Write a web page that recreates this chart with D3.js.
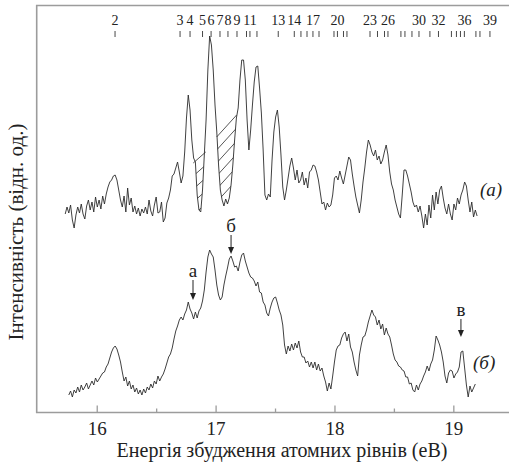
<!DOCTYPE html>
<html>
<head>
<meta charset="utf-8">
<script src="https://cdn.jsdelivr.net/npm/d3@7/dist/d3.min.js"></script>
<style>
  body { margin: 0; background: #fff; }
  svg text { font-family: "Liberation Serif", "Times New Roman", Times, serif; fill: #222; }
</style>
</head>
<body>
<div id="chart"></div>
<script>
// excitation energies of the atomic levels (eV) and the numbers printed above them
var levelEnergies = [16.154, 16.701, 16.785, 16.890, 16.962, 17.037, 17.104, 17.180, 17.260, 17.289,
  17.348, 17.527, 17.662, 17.718, 17.769, 17.819, 17.870, 17.996, 18.025, 18.076,
  18.105, 18.299, 18.362, 18.421, 18.450, 18.559, 18.593, 18.652, 18.711, 18.803,
  18.875, 18.984, 19.026, 19.060, 19.093, 19.190, 19.224, 19.308];
var levelNumbers = [2, 3, 4, 5, 6, 7, 8, 9, 10, 11, 12, 13, 14, 15, 16, 17, 18, 19, 20, 21, 22,
  23, 24, 25, 26, 27, 28, 29, 30, 31, 32, 33, 34, 35, 36, 37, 38, 39];
var labelledLevels = [2, 3, 4, 5, 6, 7, 8, 9, 11, 13, 14, 17, 20, 23, 26, 30, 32, 36, 39];

var energies = [
  15.735,15.750,15.765,15.780,15.795,15.810,15.825,15.840,15.855,15.870,
  15.885,15.900,15.915,15.930,15.945,15.960,15.975,15.990,16.005,16.020,
  16.035,16.050,16.065,16.080,16.095,16.110,16.125,16.140,16.155,16.170,
  16.185,16.200,16.215,16.230,16.245,16.260,16.275,16.290,16.305,16.320,
  16.335,16.350,16.365,16.380,16.395,16.410,16.425,16.440,16.455,16.470,
  16.485,16.500,16.515,16.530,16.545,16.560,16.575,16.590,16.605,16.620,
  16.635,16.650,16.665,16.680,16.695,16.710,16.725,16.740,16.755,16.770,
  16.785,16.800,16.815,16.830,16.845,16.860,16.875,16.890,16.905,16.920,
  16.935,16.950,16.965,16.980,16.995,17.010,17.025,17.040,17.055,17.070,
  17.085,17.100,17.115,17.130,17.145,17.160,17.175,17.190,17.205,17.220,
  17.235,17.250,17.265,17.280,17.295,17.310,17.325,17.340,17.355,17.370,
  17.385,17.400,17.415,17.430,17.445,17.460,17.475,17.490,17.505,17.520,
  17.535,17.550,17.565,17.580,17.595,17.610,17.625,17.640,17.655,17.670,
  17.685,17.700,17.715,17.730,17.745,17.760,17.775,17.790,17.805,17.820,
  17.835,17.850,17.865,17.880,17.895,17.910,17.925,17.940,17.955,17.970,
  17.985,18.000,18.015,18.030,18.045,18.060,18.075,18.090,18.105,18.120,
  18.135,18.150,18.165,18.180,18.195,18.210,18.225,18.240,18.255,18.270,
  18.285,18.300,18.315,18.330,18.345,18.360,18.375,18.390,18.405,18.420,
  18.435,18.450,18.465,18.480,18.495,18.510,18.525,18.540,18.555,18.570,
  18.585,18.600,18.615,18.630,18.645,18.660,18.675,18.690,18.705,18.720,
  18.735,18.750,18.765,18.780,18.795,18.810,18.825,18.840,18.855,18.870,
  18.885,18.900,18.915,18.930,18.945,18.960,18.975,18.990,19.005,19.020,
  19.035,19.050,19.065,19.080,19.095,19.110,19.125,19.140,19.155,19.170,
  19.185,19.200];

// spectrum (а), relative intensity (shifted up)
var intensA = [
  198,205,199,207,192,184,197,205,199,208,
  198,193,206,212,202,210,200,215,205,212,
  203,216,208,218,225,230,232,236,237,232,
  222,212,205,216,200,224,207,214,200,206,
  198,204,196,203,199,205,198,212,201,196,
  207,215,199,200,210,190,194,209,214,222,
  236,238,244,250,240,229,236,260,294,317,
  302,272,254,250,217,202,200,222,257,292,
  342,376,367,342,307,280,247,222,212,206,
  213,208,214,227,247,272,294,304,332,352,
  352,332,292,262,282,307,330,345,346,324,
  299,262,217,212,218,215,252,280,295,302,
  285,257,225,212,222,234,246,254,244,232,
  242,229,232,240,227,234,224,240,242,247,
  246,240,232,220,208,210,202,209,205,207,
  217,234,236,232,241,234,228,237,246,255,
  252,238,226,215,207,199,212,230,244,260,
  272,267,260,256,262,252,256,248,252,260,
  267,257,240,228,222,212,205,198,194,217,
  242,242,236,228,220,210,205,207,200,206,
  196,184,198,187,207,194,217,202,220,208,
  222,226,214,204,198,208,198,192,208,202,
  214,208,217,222,230,226,212,200,210,195,
  202,196];

// spectrum (б), relative intensity
var intensB = [
  null,null,17,21,15,22,19,25,20,27,
  22,25,29,23,27,31,27,34,30,33,
  36,39,40,45,48,54,60,64,66,63,
  57,50,40,31,35,26,31,23,27,20,
  24,18,22,17,23,19,25,22,28,24,
  31,28,36,31,35,38,43,49,55,58,
  64,73,81,86,92,95,92,98,102,110,
  103,99,93,100,94,101,104,111,122,140,
  155,162,158,155,142,127,117,112,115,127,
  136,144,153,156,151,145,146,141,150,157,
  159,151,145,139,135,134,131,126,130,120,
  119,110,107,99,96,104,110,114,115,109,
  102,97,87,67,58,66,61,68,62,69,
  64,71,60,55,55,49,51,45,50,44,
  50,42,48,41,44,36,30,21,29,23,
  36,50,62,66,67,74,78,80,71,78,
  65,60,50,42,36,57,67,75,76,82,
  90,96,102,97,95,87,92,83,88,77,
  84,78,75,67,58,52,50,46,45,42,
  41,35,35,28,29,22,20,27,22,28,
  31,36,40,46,41,48,52,62,76,72,
  67,60,50,36,29,39,42,41,34,38,
  40,45,60,61,44,27,15,26,20,24,
  28,null];

// hatched dips of spectrum (а): chord from [e1, v1] to [e2, v2]
var hatchRegions = [[16.812, 249, 16.917, 260], [17.009, 275, 17.177, 297]];

// marked features of spectrum (б)
var arrowLabels = ["а", "б", "в"];
var arrowEnergies = [16.810, 17.130, 19.064];
var arrowTips = [112, 158, 75];
var arrowTails = [132, 177, 93];

var xTicks = [16, 17, 18, 19];
var xMinorTicks = [16.5, 17.5, 18.5];

(function () {
  var w = 509, h = 463,
    frameLeft = 36.7, frameTop = 5.5, frameBottom = 412.5,
    frameColor = "#9c9c9c",
    lineColor = "#2b2b2b",
    serif = "'Liberation Serif', 'Times New Roman', Times, serif";

  var svg = d3.select("#chart").append("svg")
    .attr("width", w)
    .attr("height", h);

  var x = d3.scaleLinear().domain([15.495, 19.47]).range([frameLeft, 509.2]);
  var y = d3.scaleLinear().domain([0, 400]).range([412, 12]);

  // frame: left, top and bottom lines (open on the right)
  svg.append("path")
    .attr("d", "M" + w + "," + frameTop + "H" + frameLeft + "V" + frameBottom + "H" + w)
    .attr("fill", "none")
    .attr("stroke", frameColor)
    .attr("stroke-width", 1.6);

  // bottom axis, ticks pointing inside
  var axisG = svg.append("g")
    .attr("transform", "translate(0," + frameBottom + ")")
    .call(d3.axisBottom(x).tickValues(xTicks).tickSize(-7).tickPadding(9).tickFormat(d3.format("d")));
  axisG.attr("font-family", null).attr("font-size", null);
  axisG.select(".domain").remove();
  axisG.selectAll(".tick line").attr("stroke", frameColor).attr("stroke-width", 1.3);
  axisG.selectAll(".tick text")
    .style("font-family", serif)
    .style("font-size", "19px")
    .attr("fill", "#222");

  var minorG = svg.append("g")
    .attr("transform", "translate(0," + frameBottom + ")")
    .call(d3.axisBottom(x).tickValues(xMinorTicks).tickSize(-4).tickFormat(""));
  minorG.select(".domain").remove();
  minorG.selectAll(".tick line").attr("stroke", frameColor).attr("stroke-width", 1.3);

  // level markers on top
  svg.append("g").selectAll("line")
    .data(levelEnergies).enter()
    .append("line")
      .attr("x1", function (d) { return x(d); })
      .attr("x2", function (d) { return x(d); })
      .attr("y1", 31)
      .attr("y2", 37)
      .attr("stroke", "#333")
      .attr("stroke-width", 0.9);

  svg.append("g").selectAll("text")
    .data(labelledLevels).enter()
    .append("text")
      .attr("x", function (d) { return x(levelEnergies[levelNumbers.indexOf(d)]); })
      .attr("y", 24.5)
      .attr("text-anchor", "middle")
      .style("font-family", serif)
      .style("font-size", "14px")
      .text(function (d) { return d; });

  // spectra
  var line = d3.line()
    .defined(function (d) { return d[1] !== null; })
    .x(function (d) { return x(d[0]); })
    .y(function (d) { return y(d[1]); });

  var seriesA = energies.map(function (e, i) { return [e, intensA[i]]; });
  var seriesB = energies.map(function (e, i) { return [e, intensB[i]]; });

  [seriesA, seriesB].forEach(function (s) {
    svg.append("path")
      .datum(s)
      .attr("d", line)
      .attr("fill", "none")
      .attr("stroke", lineColor)
      .attr("stroke-width", 0.9)
      .attr("stroke-linejoin", "round");
  });

  // hatched areas between a chord and the curve (а)
  hatchRegions.forEach(function (r, idx) {
    var e1 = r[0], v1 = r[1], e2 = r[2], v2 = r[3];
    var chord = function (e) { return v1 + (v2 - v1) * (e - e1) / (e2 - e1); };
    var pts = [[e1, v1]];
    seriesA.forEach(function (d) {
      if (d[0] > e1 && d[0] < e2) pts.push([d[0], Math.min(d[1], chord(d[0]))]);
    });
    pts.push([e2, v2]);

    svg.append("clipPath")
      .attr("id", "hatch" + idx)
      .append("path")
      .attr("d", "M" + pts.map(function (p) { return x(p[0]) + "," + y(p[1]); }).join("L") + "Z");

    var slope = (y(v2) - y(v1)) / (x(e2) - x(e1));
    var g = svg.append("g").attr("clip-path", "url(#hatch" + idx + ")");
    d3.range(1, 9).forEach(function (k) {
      g.append("line")
        .attr("x1", x(e1) - 20)
        .attr("x2", x(e2) + 20)
        .attr("y1", y(v1) + k * 13 - 20 * slope)
        .attr("y2", y(v2) + k * 13 + 20 * slope)
        .attr("stroke", lineColor)
        .attr("stroke-width", 0.8);
    });
    svg.append("line")
      .attr("x1", x(e1)).attr("y1", y(v1))
      .attr("x2", x(e2)).attr("y2", y(v2))
      .attr("stroke", lineColor)
      .attr("stroke-width", 0.8);
  });

  // arrows with labels on spectrum (б)
  arrowLabels.forEach(function (lab, i) {
    var ax = x(arrowEnergies[i]), tip = y(arrowTips[i]), tail = y(arrowTails[i]);
    svg.append("line")
      .attr("x1", ax).attr("x2", ax)
      .attr("y1", tail).attr("y2", tip - 5)
      .attr("stroke", "#222")
      .attr("stroke-width", 1);
    svg.append("path")
      .attr("d", "M" + (ax - 3) + "," + (tip - 7) + "L" + (ax + 3) + "," + (tip - 7) + "L" + ax + "," + tip + "Z")
      .attr("fill", "#222");
    svg.append("text")
      .attr("x", ax)
      .attr("y", tail - 3)
      .attr("text-anchor", "middle")
      .style("font-family", serif)
      .style("font-size", "19px")
      .text(lab);
  });

  // curve names
  svg.append("text")
    .attr("x", 480).attr("y", 196)
    .style("font-family", serif)
    .style("font-size", "19px").style("font-style", "italic")
    .text("(а)");
  svg.append("text")
    .attr("x", 473).attr("y", 369)
    .style("font-family", serif)
    .style("font-size", "19px").style("font-style", "italic")
    .text("(б)");

  // axis titles
  svg.append("text")
    .attr("x", 282).attr("y", 456.5)
    .attr("text-anchor", "middle")
    .style("font-family", serif)
    .style("font-size", "20px")
    .text("Енергія збудження атомних рівнів (еВ)");

  svg.append("text")
    .attr("transform", "translate(23,232) rotate(-90)")
    .attr("text-anchor", "middle")
    .style("font-family", serif)
    .style("font-size", "21px")
    .text("Інтенсивність (відн. од.)");
})();
</script>
</body>
</html>
